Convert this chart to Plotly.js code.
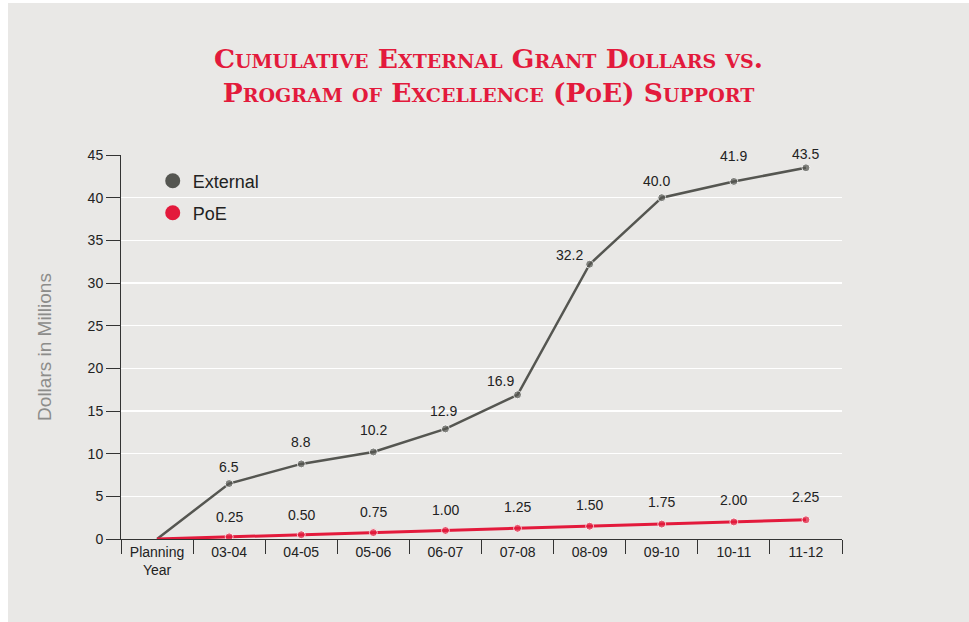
<!DOCTYPE html>
<html>
<head>
<meta charset="utf-8">
<script src="https://cdn.plot.ly/plotly-3.0.1.min.js"></script>
<style>
html,body{margin:0;padding:0;background:#ffffff;width:969px;height:622px;overflow:hidden;}
#chart{position:absolute;left:8px;top:3px;width:961px;height:619px;}
</style>
</head>
<body>
<div id="chart"></div>
<script>
const categories = ["Planning<br>Year","03-04","04-05","05-06","06-07","07-08","08-09","09-10","10-11","11-12"];
const externalValues = [0, 6.5, 8.8, 10.2, 12.9, 16.9, 32.2, 40.0, 41.9, 43.5];
const externalLabels = ["", "6.5", "8.8", "10.2", "12.9", "16.9", "32.2", "40.0", "41.9", "43.5"];
const poeValues = [0, 0.25, 0.50, 0.75, 1.00, 1.25, 1.50, 1.75, 2.00, 2.25];
const poeLabels = ["", "0.25", "0.50", "0.75", "1.00", "1.25", "1.50", "1.75", "2.00", "2.25"];
const yTicks = [0, 5, 10, 15, 20, 25, 30, 35, 40, 45];

const grayCol = "#555651";
const redCol = "#e31a3c";
const sans = "Liberation Sans, Arial, sans-serif";
const labelFont = {family: sans, size: 14, color: "#222222"};
const markerSizes = categories.map((c, i) => i === 0 ? 0 : 8);

const traces = [
  {x: categories, y: externalValues, type: "scatter", mode: "lines+markers", showlegend: false,
   line: {color: grayCol, width: 2.5}, marker: {color: grayCol, size: markerSizes}, hoverinfo: "skip"},
  {x: categories, y: poeValues, type: "scatter", mode: "lines+markers", showlegend: false,
   line: {color: redCol, width: 3}, marker: {color: redCol, size: markerSizes}, hoverinfo: "skip"},
  {x: [null], y: [null], type: "scatter", mode: "markers", name: "External", legend: "legend",
   marker: {color: grayCol, size: 15}},
  {x: [null], y: [null], type: "scatter", mode: "markers", name: "PoE", legend: "legend2",
   marker: {color: redCol, size: 15}}
];

const extXShift = [0, 0, 0, 0, -2, -17, -20, -5, 0, 0];
const extYShift = [0, 17, 22, 22, 18, 14, 9, 17, 25, 14];
const annotations = [];
categories.forEach((c, i) => {
  if (externalLabels[i]) annotations.push({x: c, y: externalValues[i], text: externalLabels[i], showarrow: false,
    xref: "x", yref: "y", yshift: extYShift[i], xshift: extXShift[i], font: labelFont});
  if (poeLabels[i]) annotations.push({x: c, y: poeValues[i], text: poeLabels[i], showarrow: false,
    xref: "x", yref: "y", yshift: 19 + i * 0.4, font: labelFont});
});

const legendBase = {xref: "paper", yref: "paper", xanchor: "left", yanchor: "middle", bgcolor: "rgba(0,0,0,0)",
  font: {family: sans, size: 18, color: "#222222"}, itemsizing: "trace"};

const layout = {
  width: 961, height: 619,
  paper_bgcolor: "#e9e8e6", plot_bgcolor: "#e9e8e6",
  margin: {l: 113, r: 127, t: 152, b: 83},
  title: {
    text: "Cumulative External Grant Dollars vs.<br>Program of Excellence (PoE) Support",
    font: {family: "DejaVu Serif, Liberation Serif, serif", size: 26.5, color: redCol, weight: "bold", variant: "small-caps"},
    x: 0.5, xanchor: "center", xref: "container", y: 0.895, yanchor: "top", yref: "container"
  },
  xaxis: {
    type: "category", range: [-0.5, 9.5], tickson: "boundaries", ticks: "outside", ticklen: 14, tickcolor: "#333333",
    tickwidth: 1, showline: true, linecolor: "#333333", linewidth: 1, showgrid: false, zeroline: false,
    tickfont: {family: sans, size: 14, color: "#222222"}, fixedrange: true
  },
  yaxis: {
    range: [0, 45], tickvals: yTicks, ticktext: yTicks.map(String), ticks: "outside", ticklen: 14, tickcolor: "#333333",
    showline: true, linecolor: "#333333", linewidth: 1, showgrid: true, gridcolor: "#ffffff", gridwidth: 1.5,
    zeroline: false, tickfont: {family: sans, size: 14, color: "#222222"},
    title: {text: "Dollars in Millions", standoff: 30, font: {family: sans, size: 19, color: "#8c8c8a"}},
    fixedrange: true
  },
  legend: Object.assign({x: 0.044, y: 0.932}, legendBase),
  legend2: Object.assign({x: 0.044, y: 0.849}, legendBase),
  annotations: annotations,
  showlegend: true
};

Plotly.newPlot("chart", traces, layout, {displayModeBar: false, staticPlot: true});
</script>
</body>
</html>
